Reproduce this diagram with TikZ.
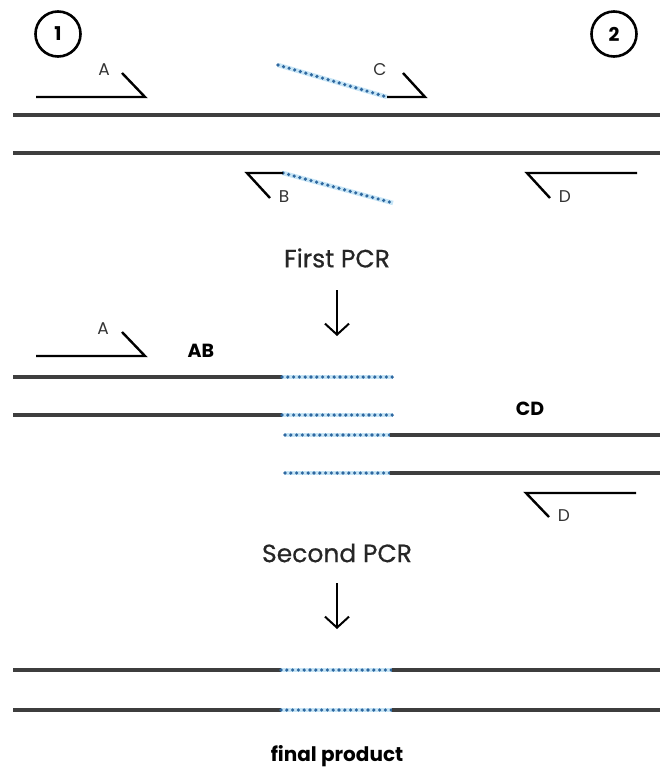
\documentclass[tikz,border=0pt]{standalone}
\usepackage{fontspec}
\setmainfont{Poppins}
\newfontfamily\stepfont[FakeBold=0.6]{Poppins}
\usetikzlibrary{arrows.meta}
\definecolor{strand}{RGB}{62,62,62}
\definecolor{dotblue}{RGB}{46,104,160}
\definecolor{halo}{RGB}{175,218,242}
\tikzset{
  strandline/.style={strand, line width=4.2pt},
  primer/.style={black, line width=2.4pt, line join=miter},
  mutdots/.style={dotblue, line width=3.6pt, line cap=round, dash pattern=on 0pt off 5.8pt},
  mutglow/.style={halo, line width=4.5pt, opacity=0.7},
  steplabel/.style={font=\stepfont\fontsize{25}{28}\selectfont, text=black!85},
  primerlabel/.style={font=\fontsize{17}{19}\selectfont, text=black!80},
  fraglabel/.style={font=\bfseries\fontsize{19}{21}\selectfont},
  marker/.style={circle, draw=black, line width=2.6pt, minimum size=45pt, inner sep=0pt, font=\bfseries\fontsize{19}{21}\selectfont},
  downarrow/.style={black, line width=2pt, -{Straight Barb[length=11pt, width=24pt, line width=2pt]}}
}
\newcommand{\mutseg}[2]{%
  \draw[mutglow] (#1) -- (#2);
  \draw[mutdots] (#1) -- (#2);}
\begin{document}
\begin{tikzpicture}[x=1pt, y=-1pt]
\useasboundingbox (0,0) rectangle (660,772);

% ---- template with four primers ----
\node[marker] (m1) at (58,34) {1};
\node[marker] (m2) at (614,34) {2};

\coordinate (t1L) at (13,115); \coordinate (t1R) at (660,115);
\coordinate (t2L) at (13,153); \coordinate (t2R) at (660,153);
\draw[strandline] (t1L) -- (t1R);
\draw[strandline] (t2L) -- (t2R);

% primer A
\coordinate (a0) at (36,97); \coordinate (a1) at (145,97); \coordinate (a2) at (122,73);
\draw[primer] (a0) -- (a1) -- (a2);
\node[primerlabel] (la) at (104,70) {A};

% primer C with mutated tail
\coordinate (c0) at (278,65); \coordinate (c1) at (387,97);
\coordinate (c2) at (425,97); \coordinate (c3) at (403,73);
\mutseg{c0}{c1}
\draw[primer] (c1) -- (c2) -- (c3);
\node[primerlabel] (lc) at (380,70) {C};

% primer B with mutated tail
\coordinate (b0) at (393,203); \coordinate (b1) at (283,173);
\coordinate (b2) at (247,173); \coordinate (b3) at (270,198);
\mutseg{b1}{b0}
\draw[primer] (b1) -- (b2) -- (b3);
\node[primerlabel] (lb) at (284,197) {B};

% primer D
\coordinate (d0) at (637,173); \coordinate (d1) at (527,173); \coordinate (d2) at (550,198);
\draw[primer] (d0) -- (d1) -- (d2);
\node[primerlabel] (ld) at (565,197) {D};

% ---- first PCR ----
\node[steplabel] (pcr1) at (337,258) {First PCR};
\coordinate (ar1a) at (337,290); \coordinate (ar1b) at (337,336);
\draw[downarrow] (ar1a) -- (ar1b);

% primer A again
\coordinate (e0) at (36,356); \coordinate (e1) at (145,356); \coordinate (e2) at (122,332);
\draw[primer] (e0) -- (e1) -- (e2);
\node[primerlabel] (le) at (103,329) {A};
\node[fraglabel] (ab) at (201,351) {AB};
\node[fraglabel] (cd) at (530,409) {CD};

% AB product
\coordinate (p1L) at (13,377); \coordinate (p1M) at (282,377); \coordinate (p1R) at (393,377);
\coordinate (p2L) at (13,415); \coordinate (p2M) at (282,415); \coordinate (p2R) at (393,415);
\draw[strandline] (p1L) -- (p1M);
\draw[strandline] (p2L) -- (p2M);
\mutseg{p1M}{p1R}
\mutseg{p2M}{p2R}

% CD product
\coordinate (q1L) at (285,435); \coordinate (q1M) at (390,435); \coordinate (q1R) at (660,435);
\coordinate (q2L) at (285,473); \coordinate (q2M) at (390,473); \coordinate (q2R) at (660,473);
\mutseg{q1L}{q1M}
\mutseg{q2L}{q2M}
\draw[strandline] (q1M) -- (q1R);
\draw[strandline] (q2M) -- (q2R);

% primer D again
\coordinate (f0) at (636,493); \coordinate (f1) at (526,493); \coordinate (f2) at (549,517);
\draw[primer] (f0) -- (f1) -- (f2);
\node[primerlabel] (lf) at (564,516) {D};

% ---- second PCR ----
\node[steplabel] (pcr2) at (337,553) {Second PCR};
\coordinate (ar2a) at (337,583); \coordinate (ar2b) at (337,629);
\draw[downarrow] (ar2a) -- (ar2b);

% final product
\foreach \yy/\nm in {670/r1, 710/r2} {
  \coordinate (\nm L) at (13,\yy);
  \coordinate (\nm M) at (281,\yy);
  \coordinate (\nm N) at (392,\yy);
  \coordinate (\nm R) at (660,\yy);
  \draw[strandline] (\nm L) -- (\nm M);
  \mutseg{\nm M}{\nm N}
  \draw[strandline] (\nm N) -- (\nm R);
}
\node[fraglabel, font=\bfseries\fontsize{20}{22}\selectfont] (fin) at (337,756) {final product};
\end{tikzpicture}
\end{document}
